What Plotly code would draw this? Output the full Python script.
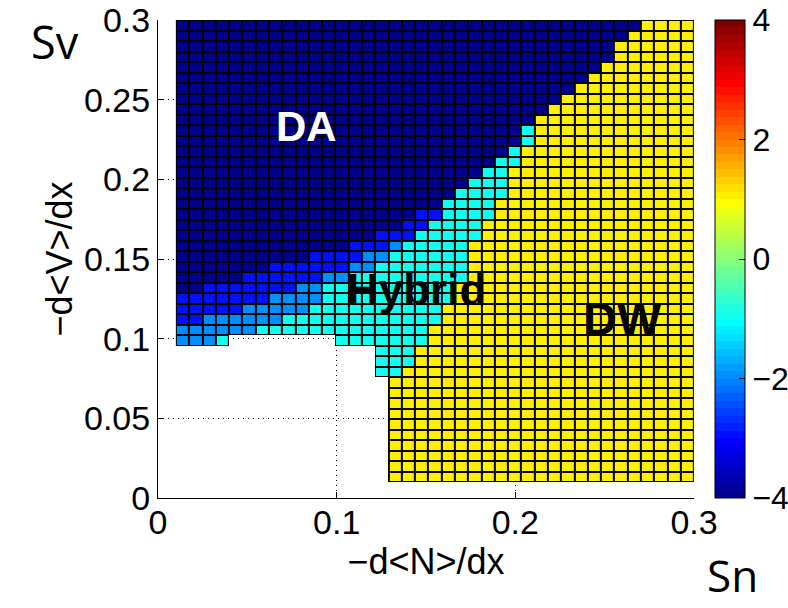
import numpy as np
import plotly.graph_objects as go

# ---------------- data ----------------
# grid of the pcolor: cell edges along Sn (x) and Sv (y)
sn_min, sn_max, n_sn_cells = 0.01, 0.30, 39
sv_min, sv_max, n_sv_cells = 0.01, 0.30, 44

# value of each regime class (colour read from the jet colormap)
class_values = {
    "N": -3.94,   # DA (dark navy)
    "B": -2.94,   # blue
    "M": -1.94,   # medium blue
    "C": -0.94,   # Hybrid (cyan)
    "Y": 1.06,    # DW (yellow)
    ".": None,    # no data
}

# run-length description of every row of cells, bottom (Sv=0.01) to top
row_runs = [
    [(".", 16), ("Y", 23)],  # 0
    [(".", 16), ("Y", 23)],  # 1
    [(".", 16), ("Y", 23)],  # 2
    [(".", 16), ("Y", 23)],  # 3
    [(".", 16), ("Y", 23)],  # 4
    [(".", 16), ("Y", 23)],  # 5
    [(".", 16), ("Y", 23)],  # 6
    [(".", 16), ("Y", 23)],  # 7
    [(".", 16), ("Y", 23)],  # 8
    [(".", 16), ("Y", 23)],  # 9
    [(".", 15), ("C", 2), ("Y", 22)],  # 10
    [(".", 15), ("C", 3), ("Y", 21)],  # 11
    [(".", 15), ("C", 3), ("Y", 21)],  # 12
    [("M", 3), ("C", 1), (".", 8), ("C", 7), ("Y", 20)],  # 13
    [("M", 6), ("C", 13), ("Y", 20)],  # 14
    [("B", 2), ("M", 6), ("C", 12), ("Y", 19)],  # 15
    [("B", 5), ("M", 5), ("C", 10), ("Y", 19)],  # 16
    [("B", 7), ("M", 4), ("C", 10), ("Y", 18)],  # 17
    [("N", 2), ("B", 7), ("M", 2), ("C", 10), ("Y", 18)],  # 18
    [("N", 5), ("B", 6), ("M", 2), ("C", 9), ("Y", 17)],  # 19
    [("N", 7), ("B", 6), ("M", 2), ("C", 7), ("Y", 17)],  # 20
    [("N", 10), ("B", 4), ("M", 2), ("C", 6), ("Y", 17)],  # 21
    [("N", 13), ("B", 3), ("M", 1), ("C", 5), ("Y", 17)],  # 22
    [("N", 15), ("B", 3), ("C", 5), ("Y", 16)],  # 23
    [("N", 17), ("B", 2), ("C", 4), ("Y", 16)],  # 24
    [("N", 18), ("B", 2), ("C", 4), ("Y", 15)],  # 25
    [("N", 20), ("C", 4), ("Y", 15)],  # 26
    [("N", 21), ("C", 4), ("Y", 14)],  # 27
    [("N", 22), ("C", 3), ("Y", 14)],  # 28
    [("N", 23), ("C", 2), ("Y", 14)],  # 29
    [("N", 24), ("C", 2), ("Y", 13)],  # 30
    [("N", 25), ("C", 1), ("Y", 13)],  # 31
    [("N", 26), ("C", 1), ("Y", 12)],  # 32
    [("N", 26), ("C", 1), ("Y", 12)],  # 33
    [("N", 27), ("Y", 12)],  # 34
    [("N", 28), ("Y", 11)],  # 35
    [("N", 29), ("Y", 10)],  # 36
    [("N", 30), ("Y", 9)],   # 37
    [("N", 31), ("Y", 8)],   # 38
    [("N", 32), ("Y", 7)],   # 39
    [("N", 33), ("Y", 6)],   # 40
    [("N", 33), ("Y", 6)],   # 41
    [("N", 34), ("Y", 5)],   # 42
    [("N", 35), ("Y", 4)],   # 43
]

x_ticks = [0, 0.1, 0.2, 0.3]
y_ticks = [0, 0.05, 0.1, 0.15, 0.2, 0.25, 0.3]
cbar_ticks = [-4, -2, 0, 2, 4]
color_min, color_max = -4, 4

region_labels = [  # text, Sn, Sv, colour, size
    ("DA", 0.0832, 0.2329, "white", 42),
    ("Hybrid", 0.1448, 0.1306, "black", 44),
    ("DW", 0.2600, 0.1124, "black", 47),
]

# ---------------- build the table ----------------
x_edges = np.linspace(sn_min, sn_max, n_sn_cells + 1)
y_edges = np.linspace(sv_min, sv_max, n_sv_cells + 1)

z = []
for runs in row_runs:
    row = []
    for cls, n in runs:
        row += [class_values[cls]] * n
    assert len(row) == n_sn_cells
    z.append(row)
z_border = [[0 if v is not None else None for v in row] for row in z]


def jet(n=64):
    m = int(np.ceil(n / 4))
    u = np.concatenate([np.arange(1, m + 1) / m, np.ones(m - 1), np.arange(m, 0, -1) / m])
    g = int(np.ceil(m / 2)) - (1 if n % 4 == 1 else 0) + np.arange(1, len(u) + 1)
    r = g + m
    b = g - m
    J = np.zeros((n, 3))
    for idx, val in zip(r, u):
        if 1 <= idx <= n:
            J[idx - 1, 0] = val
    for idx, val in zip(g, u):
        if 1 <= idx <= n:
            J[idx - 1, 1] = val
    for idx, val in zip(b, u):
        if 1 <= idx <= n:
            J[idx - 1, 2] = val
    return J


J = jet(64)
colorscale = []
for k, (rr, gg, bb) in enumerate(J):
    c = "rgb(%d,%d,%d)" % (round(rr * 255), round(gg * 255), round(bb * 255))
    colorscale.append([k / 64, c])
    colorscale.append([(k + 1) / 64, c])

fig = go.Figure()
# black layer beneath -> cell borders
fig.add_trace(go.Heatmap(
    x=x_edges, y=y_edges, z=z_border,
    colorscale=[[0, "black"], [1, "black"]],
    showscale=False, hoverinfo="skip",
))
fig.add_trace(go.Heatmap(
    x=x_edges, y=y_edges, z=z,
    zmin=color_min, zmax=color_max,
    colorscale=colorscale,
    xgap=2, ygap=2,
    colorbar=dict(
        x=1.0392, xanchor="left", xpad=0, ypad=0,
        y=0.5, yanchor="middle", len=1, lenmode="fraction",
        thickness=30, thicknessmode="pixels",
        outlinecolor="black", outlinewidth=1,
        tickvals=cbar_ticks, ticks="inside", ticklen=6, tickcolor="black",
        ticklabeloverflow="allow",
        tickfont=dict(family="Liberation Sans", size=32, color="black"),
    ),
))

for text, sx, sy, col, size in region_labels:
    fig.add_annotation(
        x=sx, y=sy, xref="x", yref="y", text=text, showarrow=False,
        font=dict(family="Liberation Sans", size=size, color=col, weight="bold"),
        xanchor="center", yanchor="middle",
    )

fig.add_annotation(x=-0.192, y=0.954, xref="paper", yref="paper", text="Sv",
                   showarrow=False, font=dict(family="Open Sans", size=45, color="black"),
                   xanchor="center", yanchor="middle")
fig.add_annotation(x=1.071, y=-0.226, xref="paper", yref="paper", text="Sn",
                   showarrow=False, borderpad=0,
                   font=dict(family="Open Sans", size=44, color="black"),
                   xanchor="center", yanchor="bottom")

axis_common = dict(
    showline=True, linecolor="black", linewidth=1,
    ticks="inside", ticklen=6, tickcolor="black",
    tickfont=dict(family="Liberation Sans", size=34, color="black"),
    showgrid=True, gridcolor="black", gridwidth=1, griddash="1px,4px",
    zeroline=False, mirror=False, automargin=False,
    ticklabeloverflow="allow",
)

fig.update_layout(
    width=788, height=608,
    margin=dict(l=158, r=94, t=20, b=110, autoexpand=False),
    paper_bgcolor="white", plot_bgcolor="white",
    xaxis=dict(range=[0, 0.3], tickvals=x_ticks, ticklabelstandoff=-6,
               title=dict(text="\u2212d&lt;N&gt;/dx", standoff=4,
                          font=dict(family="Liberation Sans", size=36, color="black")),
               **axis_common),
    yaxis=dict(range=[0, 0.3], tickvals=y_ticks,
               title=dict(text="\u2212d&lt;V&gt;/dx", standoff=0,
                          font=dict(family="Liberation Sans", size=36, color="black")),
               **axis_common),
    showlegend=False,
)

# remove the page's default 8px body margin so the figure fills the window
fig.write_html(
    "out.html",
    config={"displayModeBar": False},
    post_script="document.body.style.margin='0px';document.body.style.overflow='hidden';",
)
